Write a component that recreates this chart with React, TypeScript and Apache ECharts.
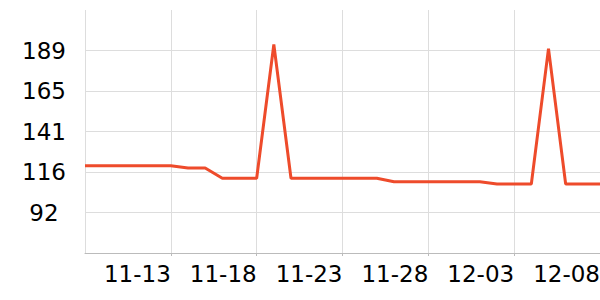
import React, { useEffect, useRef } from "react";
import * as echarts from "echarts";

const dates: string[] = [
  "11-08", "11-09", "11-10", "11-11", "11-12", "11-13", "11-14", "11-15",
  "11-16", "11-17", "11-18", "11-19", "11-20", "11-21", "11-22", "11-23",
  "11-24", "11-25", "11-26", "11-27", "11-28", "11-29", "11-30", "12-01",
  "12-02", "12-03", "12-04", "12-05", "12-06", "12-07", "12-08",
];

const values: number[] = [
  120, 120, 120, 120, 120, 120, 118.6, 118.6,
  112.4, 112.4, 112.4, 193, 112.4, 112.4, 112.4, 112.4,
  112.4, 112.4, 110.3, 110.3, 110.3, 110.3, 110.3, 110.3,
  109, 109, 109, 190.5, 109, 109, 109,
];

const yMin = 67.4;
const yMax = 213.8;
const yStep = 24.4;

export default function App() {
  const ref = useRef<HTMLDivElement>(null);
  useEffect(() => {
    document.body.style.margin = "0";
    document.documentElement.style.overflow = "hidden";
    document.body.style.overflow = "hidden";
    if (!ref.current) return;
    const chart = echarts.init(ref.current, undefined, { renderer: "svg" });
    chart.setOption({
      animation: false,
      grid: {
        left: 85,
        right: 0,
        top: 10,
        bottom: 47,
        containLabel: false,
        outerBoundsMode: "none",
      },
      xAxis: {
        type: "category",
        data: dates,
        boundaryGap: false,
        axisLine: { show: true, lineStyle: { color: "#bbbbbb", width: 1 } },
        axisTick: { show: true, interval: 4, length: 3, lineStyle: { color: "#bbbbbb" } },
        splitLine: {
          show: true,
          interval: 4,
          showMaxLine: false,
          lineStyle: { color: "#dddddd", width: 1 },
        },
        axisLabel: {
          interval: 4,
          showMinLabel: false,
          align: "right",
          margin: 9,
          color: "#000",
          fontSize: 23,
          fontFamily: "DejaVu Sans",
        },
      },
      yAxis: {
        type: "value",
        min: yMin,
        max: yMax,
        interval: yStep,
        axisLine: { show: false },
        axisTick: { show: false },
        splitLine: {
          show: true,
          showMinLine: false,
          showMaxLine: false,
          lineStyle: { color: "#dddddd", width: 1 },
        },
        axisLabel: {
          showMinLabel: false,
          showMaxLabel: false,
          align: "center",
          margin: 41,
          color: "#000",
          fontSize: 23,
          fontFamily: "DejaVu Sans",
          formatter: (v: number) => String(Math.round(v)),
        },
      },
      series: [
        {
          type: "line",
          data: values,
          showSymbol: false,
          symbol: "none",
          lineStyle: { color: "#ee4b2b", width: 3 },
        },
      ],
    });
    return () => chart.dispose();
  }, []);
  return <div ref={ref} style={{ width: 600, height: 300 }} />;
}
